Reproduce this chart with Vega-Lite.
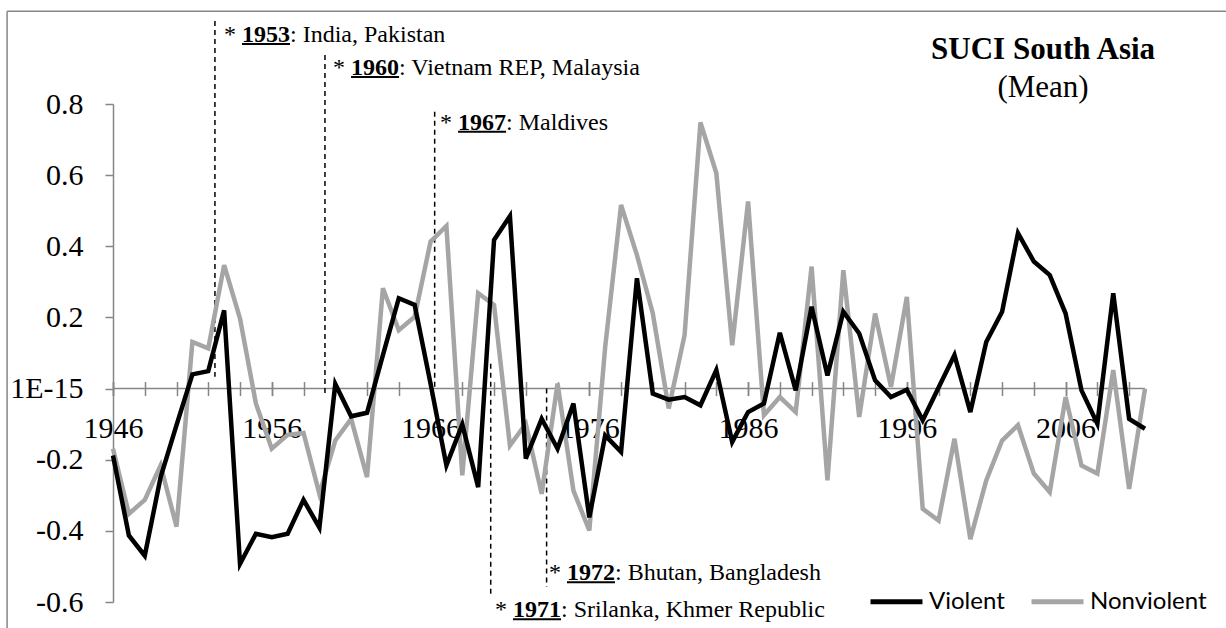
{
  "$schema": "https://vega.github.io/schema/vega-lite/v6.json",
  "width": 1032,
  "height": 498,
  "autosize": {"type": "none"},
  "padding": {"left": 113, "top": 104, "right": 81, "bottom": 26},
  "background": "white",
  "config": {
    "view": {"stroke": null},
    "font": "Liberation Serif",
    "axis": {"grid": false}
  },
  "resolve": {"axis": {"x": "independent", "y": "independent"}},
  "datasets": {
    "suci": [
      {"year": 1946, "series": "Violent", "value": -0.188},
      {"year": 1947, "series": "Violent", "value": -0.413},
      {"year": 1948, "series": "Violent", "value": -0.470},
      {"year": 1949, "series": "Violent", "value": -0.249},
      {"year": 1950, "series": "Violent", "value": -0.103},
      {"year": 1951, "series": "Violent", "value": 0.040},
      {"year": 1952, "series": "Violent", "value": 0.049},
      {"year": 1953, "series": "Violent", "value": 0.220},
      {"year": 1954, "series": "Violent", "value": -0.493},
      {"year": 1955, "series": "Violent", "value": -0.408},
      {"year": 1956, "series": "Violent", "value": -0.418},
      {"year": 1957, "series": "Violent", "value": -0.408},
      {"year": 1958, "series": "Violent", "value": -0.313},
      {"year": 1959, "series": "Violent", "value": -0.391},
      {"year": 1960, "series": "Violent", "value": 0.013},
      {"year": 1961, "series": "Violent", "value": -0.078},
      {"year": 1962, "series": "Violent", "value": -0.068},
      {"year": 1963, "series": "Violent", "value": 0.094},
      {"year": 1964, "series": "Violent", "value": 0.254},
      {"year": 1965, "series": "Violent", "value": 0.235},
      {"year": 1966, "series": "Violent", "value": 0.014},
      {"year": 1967, "series": "Violent", "value": -0.216},
      {"year": 1968, "series": "Violent", "value": -0.101},
      {"year": 1969, "series": "Violent", "value": -0.277},
      {"year": 1970, "series": "Violent", "value": 0.418},
      {"year": 1971, "series": "Violent", "value": 0.485},
      {"year": 1972, "series": "Violent", "value": -0.197},
      {"year": 1973, "series": "Violent", "value": -0.085},
      {"year": 1974, "series": "Violent", "value": -0.169},
      {"year": 1975, "series": "Violent", "value": -0.042},
      {"year": 1976, "series": "Violent", "value": -0.362},
      {"year": 1977, "series": "Violent", "value": -0.132},
      {"year": 1978, "series": "Violent", "value": -0.178},
      {"year": 1979, "series": "Violent", "value": 0.310},
      {"year": 1980, "series": "Violent", "value": -0.014},
      {"year": 1981, "series": "Violent", "value": -0.031},
      {"year": 1982, "series": "Violent", "value": -0.024},
      {"year": 1983, "series": "Violent", "value": -0.047},
      {"year": 1984, "series": "Violent", "value": 0.052},
      {"year": 1985, "series": "Violent", "value": -0.150},
      {"year": 1986, "series": "Violent", "value": -0.066},
      {"year": 1987, "series": "Violent", "value": -0.042},
      {"year": 1988, "series": "Violent", "value": 0.157},
      {"year": 1989, "series": "Violent", "value": -0.005},
      {"year": 1990, "series": "Violent", "value": 0.230},
      {"year": 1991, "series": "Violent", "value": 0.037},
      {"year": 1992, "series": "Violent", "value": 0.216},
      {"year": 1993, "series": "Violent", "value": 0.155},
      {"year": 1994, "series": "Violent", "value": 0.023},
      {"year": 1995, "series": "Violent", "value": -0.024},
      {"year": 1996, "series": "Violent", "value": -0.003},
      {"year": 1997, "series": "Violent", "value": -0.089},
      {"year": 1998, "series": "Violent", "value": 0.003},
      {"year": 1999, "series": "Violent", "value": 0.094},
      {"year": 2000, "series": "Violent", "value": -0.066},
      {"year": 2001, "series": "Violent", "value": 0.131},
      {"year": 2002, "series": "Violent", "value": 0.216},
      {"year": 2003, "series": "Violent", "value": 0.437},
      {"year": 2004, "series": "Violent", "value": 0.357},
      {"year": 2005, "series": "Violent", "value": 0.319},
      {"year": 2006, "series": "Violent", "value": 0.211},
      {"year": 2007, "series": "Violent", "value": -0.005},
      {"year": 2008, "series": "Violent", "value": -0.099},
      {"year": 2009, "series": "Violent", "value": 0.268},
      {"year": 2010, "series": "Violent", "value": -0.085},
      {"year": 2011, "series": "Violent", "value": -0.113},
      {"year": 1946, "series": "Nonviolent", "value": -0.169},
      {"year": 1947, "series": "Nonviolent", "value": -0.352},
      {"year": 1948, "series": "Nonviolent", "value": -0.313},
      {"year": 1949, "series": "Nonviolent", "value": -0.216},
      {"year": 1950, "series": "Nonviolent", "value": -0.388},
      {"year": 1951, "series": "Nonviolent", "value": 0.131},
      {"year": 1952, "series": "Nonviolent", "value": 0.113},
      {"year": 1953, "series": "Nonviolent", "value": 0.347},
      {"year": 1954, "series": "Nonviolent", "value": 0.197},
      {"year": 1955, "series": "Nonviolent", "value": -0.042},
      {"year": 1956, "series": "Nonviolent", "value": -0.169},
      {"year": 1957, "series": "Nonviolent", "value": -0.130},
      {"year": 1958, "series": "Nonviolent", "value": -0.125},
      {"year": 1959, "series": "Nonviolent", "value": -0.296},
      {"year": 1960, "series": "Nonviolent", "value": -0.146},
      {"year": 1961, "series": "Nonviolent", "value": -0.085},
      {"year": 1962, "series": "Nonviolent", "value": -0.249},
      {"year": 1963, "series": "Nonviolent", "value": 0.282},
      {"year": 1964, "series": "Nonviolent", "value": 0.164},
      {"year": 1965, "series": "Nonviolent", "value": 0.202},
      {"year": 1966, "series": "Nonviolent", "value": 0.413},
      {"year": 1967, "series": "Nonviolent", "value": 0.457},
      {"year": 1968, "series": "Nonviolent", "value": -0.244},
      {"year": 1969, "series": "Nonviolent", "value": 0.268},
      {"year": 1970, "series": "Nonviolent", "value": 0.235},
      {"year": 1971, "series": "Nonviolent", "value": -0.160},
      {"year": 1972, "series": "Nonviolent", "value": -0.099},
      {"year": 1973, "series": "Nonviolent", "value": -0.296},
      {"year": 1974, "series": "Nonviolent", "value": 0.014},
      {"year": 1975, "series": "Nonviolent", "value": -0.287},
      {"year": 1976, "series": "Nonviolent", "value": -0.399},
      {"year": 1977, "series": "Nonviolent", "value": 0.117},
      {"year": 1978, "series": "Nonviolent", "value": 0.516},
      {"year": 1979, "series": "Nonviolent", "value": 0.375},
      {"year": 1980, "series": "Nonviolent", "value": 0.211},
      {"year": 1981, "series": "Nonviolent", "value": -0.056},
      {"year": 1982, "series": "Nonviolent", "value": 0.150},
      {"year": 1983, "series": "Nonviolent", "value": 0.748},
      {"year": 1984, "series": "Nonviolent", "value": 0.606},
      {"year": 1985, "series": "Nonviolent", "value": 0.122},
      {"year": 1986, "series": "Nonviolent", "value": 0.526},
      {"year": 1987, "series": "Nonviolent", "value": -0.075},
      {"year": 1988, "series": "Nonviolent", "value": -0.024},
      {"year": 1989, "series": "Nonviolent", "value": -0.066},
      {"year": 1990, "series": "Nonviolent", "value": 0.343},
      {"year": 1991, "series": "Nonviolent", "value": -0.258},
      {"year": 1992, "series": "Nonviolent", "value": 0.333},
      {"year": 1993, "series": "Nonviolent", "value": -0.080},
      {"year": 1994, "series": "Nonviolent", "value": 0.211},
      {"year": 1995, "series": "Nonviolent", "value": 0.005},
      {"year": 1996, "series": "Nonviolent", "value": 0.258},
      {"year": 1997, "series": "Nonviolent", "value": -0.338},
      {"year": 1998, "series": "Nonviolent", "value": -0.371},
      {"year": 1999, "series": "Nonviolent", "value": -0.141},
      {"year": 2000, "series": "Nonviolent", "value": -0.423},
      {"year": 2001, "series": "Nonviolent", "value": -0.258},
      {"year": 2002, "series": "Nonviolent", "value": -0.146},
      {"year": 2003, "series": "Nonviolent", "value": -0.103},
      {"year": 2004, "series": "Nonviolent", "value": -0.239},
      {"year": 2005, "series": "Nonviolent", "value": -0.291},
      {"year": 2006, "series": "Nonviolent", "value": -0.024},
      {"year": 2007, "series": "Nonviolent", "value": -0.216},
      {"year": 2008, "series": "Nonviolent", "value": -0.239},
      {"year": 2009, "series": "Nonviolent", "value": 0.052},
      {"year": 2010, "series": "Nonviolent", "value": -0.282},
      {"year": 2011, "series": "Nonviolent", "value": 0.000}
    ],
    "notes": [
      {"yr": "1953", "rest": ": India, Pakistan", "lx": 1952.42, "ltop": 1.033, "lbot": 0.033, "tx": 1952.99, "ty": 0.994},
      {"yr": "1960", "rest": ": Vietnam REP, Malaysia", "lx": 1959.35, "ltop": 0.938, "lbot": -0.024, "tx": 1959.86, "ty": 0.901},
      {"yr": "1967", "rest": ": Maldives", "lx": 1966.26, "ltop": 0.778, "lbot": 0.0, "tx": 1966.6, "ty": 0.747},
      {"yr": "1971", "rest": ": Srilanka, Khmer Republic", "lx": 1969.79, "ltop": 0.07, "lbot": -0.586, "tx": 1970.06, "ty": -0.623},
      {"yr": "1972", "rest": ": Bhutan, Bangladesh", "lx": 1973.31, "ltop": 0.0, "lbot": -0.558, "tx": 1973.46, "ty": -0.519}
    ]
  },
  "layer": [
    {
      "data": {"values": [{}]},
      "mark": {"type": "rule", "color": "#868686", "strokeWidth": 1.5, "clip": false},
      "encoding": {
        "x": {"datum": 1939.33, "type": "quantitative", "axis": null},
        "y": {"datum": 1.061, "type": "quantitative", "axis": null},
        "y2": {"datum": -0.75}
      }
    },
    {
      "data": {"values": [{}]},
      "mark": {"type": "rule", "color": "#868686", "strokeWidth": 1.5, "clip": false},
      "encoding": {
        "x": {"datum": 1939.33, "type": "quantitative", "axis": null},
        "x2": {"datum": 2018},
        "y": {"datum": 1.061, "type": "quantitative", "axis": null}
      }
    },
    {
      "data": {"values": [{}]},
      "mark": {"type": "rule", "color": "#868686", "strokeWidth": 1.5},
      "encoding": {
        "x": {"datum": 1946, "type": "quantitative", "axis": null},
        "x2": {"datum": 2011},
        "y": {"datum": 0, "type": "quantitative", "axis": null}
      }
    },
    {
      "data": {"name": "notes"},
      "layer": [
        {
          "mark": {"type": "rule", "color": "black", "strokeWidth": 1.5, "strokeDash": [5, 4], "clip": false},
          "encoding": {
            "x": {"field": "lx", "type": "quantitative", "axis": null},
            "y": {"field": "ltop", "type": "quantitative", "axis": null},
            "y2": {"field": "lbot"}
          }
        },
        {
          "mark": {"type": "text", "align": "left", "baseline": "middle", "font": "Liberation Serif", "fontSize": 24, "color": "black"},
          "encoding": {
            "x": {"field": "tx", "type": "quantitative", "axis": null},
            "y": {"field": "ty", "type": "quantitative", "axis": null},
            "text": {"value": "*"}
          }
        },
        {
          "mark": {"type": "text", "align": "left", "baseline": "middle", "font": "Liberation Serif", "fontSize": 24, "fontWeight": "bold", "color": "black", "dx": 18},
          "encoding": {
            "x": {"field": "tx", "type": "quantitative", "axis": null},
            "y": {"field": "ty", "type": "quantitative", "axis": null},
            "text": {"field": "yr"}
          }
        },
        {
          "mark": {"type": "text", "align": "left", "baseline": "middle", "font": "Liberation Serif", "fontSize": 24, "color": "black", "dx": 66},
          "encoding": {
            "x": {"field": "tx", "type": "quantitative", "axis": null},
            "y": {"field": "ty", "type": "quantitative", "axis": null},
            "text": {"field": "rest"}
          }
        },
        {
          "mark": {"type": "rule", "color": "black", "strokeWidth": 2, "xOffset": 18, "x2Offset": 66, "yOffset": 9, "clip": false},
          "encoding": {
            "x": {"field": "tx", "type": "quantitative", "axis": null},
            "x2": {"field": "tx"},
            "y": {"field": "ty", "type": "quantitative", "axis": null}
          }
        }
      ]
    },
    {
      "data": {"values": [{}]},
      "mark": {"type": "text", "align": "center", "baseline": "middle", "font": "Liberation Serif", "fontSize": 31, "fontWeight": "bold", "color": "black"},
      "encoding": {
        "x": {"datum": 2004.58, "type": "quantitative", "axis": null},
        "y": {"datum": 0.952, "type": "quantitative", "axis": null},
        "text": {"value": "SUCI South Asia"}
      }
    },
    {
      "data": {"values": [{}]},
      "mark": {"type": "text", "align": "center", "baseline": "middle", "font": "Liberation Serif", "fontSize": 31, "color": "black"},
      "encoding": {
        "x": {"datum": 2004.58, "type": "quantitative", "axis": null},
        "y": {"datum": 0.845, "type": "quantitative", "axis": null},
        "text": {"value": "(Mean)"}
      }
    },
    {
      "data": {"name": "suci"},
      "transform": [{"filter": "datum.series == 'Nonviolent'"}],
      "mark": {"type": "line", "strokeWidth": 4.5},
      "encoding": {
        "x": {
          "field": "year", "type": "quantitative",
          "scale": {"domain": [1946, 2011], "nice": false, "zero": false},
          "axis": {
            "title": null,
            "orient": "bottom",
            "values": [1946, 1956, 1966, 1976, 1986, 1996, 2006],
            "format": "d",
            "offset": -220.4,
            "domain": false,
            "grid": false,
            "ticks": true,
            "tickSize": 14,
            "tickColor": "#868686",
            "tickWidth": 1.5,
            "labelFont": "Liberation Serif",
            "labelFontSize": 30,
            "labelColor": "black",
            "labelPadding": 18,
            "labelOverlap": false,
            "labelFlush": false
          }
        },
        "y": {
          "field": "value", "type": "quantitative",
          "scale": {"domain": [-0.6, 0.8], "nice": false, "zero": false},
          "axis": {
            "title": null,
            "orient": "left",
            "values": [-0.6, -0.4, -0.2, 0, 0.2, 0.4, 0.6, 0.8],
            "labelExpr": "abs(datum.value) < 1e-9 ? '1E-15' : (datum.value < 0 ? '-' : '') + format(abs(datum.value), '.1f')",
            "grid": false,
            "domainColor": "#868686",
            "domainWidth": 1.5,
            "tickColor": "#868686",
            "tickWidth": 1.5,
            "tickSize": 8,
            "labelFont": "Liberation Serif",
            "labelFontSize": 30,
            "labelColor": "black",
            "labelPadding": 22,
            "labelOverlap": false,
            "labelFlush": false
          }
        },
        "color": {
          "field": "series", "type": "nominal",
          "scale": {"domain": ["Violent", "Nonviolent"], "range": ["#000000", "#a5a5a5"]},
          "legend": {
            "title": null,
            "orient": "none",
            "legendX": 755,
            "legendY": 469,
            "direction": "horizontal",
            "symbolType": "stroke",
            "symbolSize": 2700,
            "symbolStrokeWidth": 5,
            "labelFont": "Lato",
            "labelFontSize": 24,
            "labelColor": "black",
            "labelOffset": 4,
            "columnPadding": 16
          }
        }
      }
    },
    {
      "data": {"name": "suci"},
      "transform": [{"filter": "datum.series == 'Violent'"}],
      "mark": {"type": "line", "strokeWidth": 4.5},
      "encoding": {
        "x": {
          "field": "year", "type": "quantitative",
          "axis": {
            "title": null,
            "orient": "bottom",
            "values": [1946, 1948, 1950, 1952, 1954, 1956, 1958, 1960, 1962, 1964, 1966, 1968, 1970, 1972, 1974, 1976, 1978, 1980, 1982, 1984, 1986, 1988, 1990, 1992, 1994, 1996, 1998, 2000, 2002, 2004, 2006, 2008, 2010],
            "labels": false,
            "offset": -220.4,
            "domain": false,
            "grid": false,
            "ticks": true,
            "tickSize": 14,
            "tickColor": "#868686",
            "tickWidth": 1.5
          }
        },
        "y": {"field": "value", "type": "quantitative", "axis": null},
        "color": {"field": "series", "type": "nominal"}
      }
    }
  ]
}
